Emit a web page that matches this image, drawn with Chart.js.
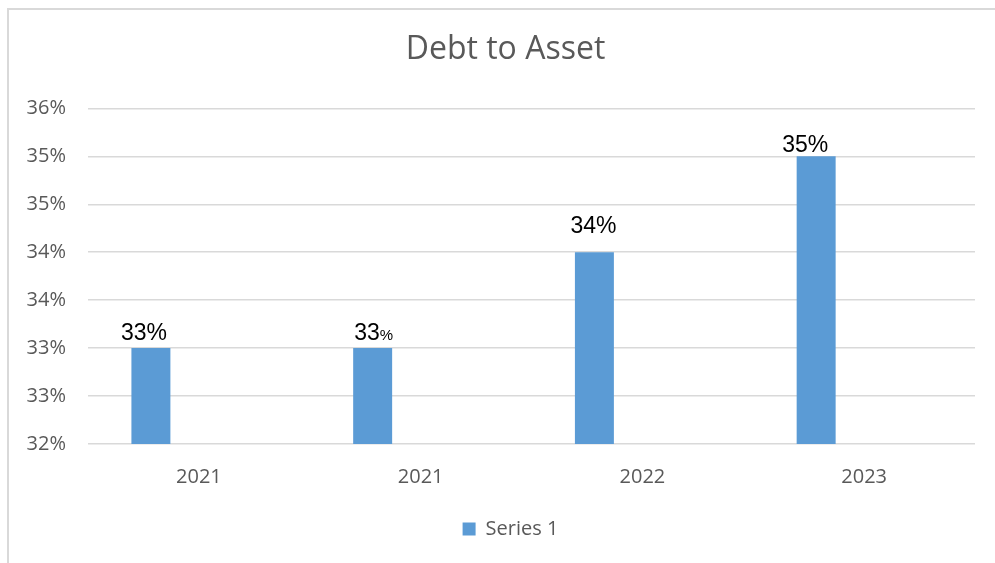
<!DOCTYPE html>
<html>
<head>
<meta charset="utf-8">
<script src="https://cdn.jsdelivr.net/npm/chart.js@4"></script>
<style>
  body { margin: 0; background: #fff; }
  #wrap { position: relative; width: 995px; height: 563px; overflow: hidden; }
  #frame { position: absolute; left: 7px; top: 8px; width: 1000px; height: 600px;
           border-left: 2px solid #d9d9d9; border-top: 2px solid #d9d9d9; }
  canvas { position: absolute; left: 0; top: 0; }
</style>
</head>
<body>
<div id="wrap">
  <div id="frame"></div>
  <canvas id="myBarChart" width="995" height="563"></canvas>
</div>
<script>
// data
const years = ["2021", "2021", "2022", "2023"];
const debtToAsset = [33, 33, 34, 35];
const emptySeries = [null, null, null, null];
const yMin = 32;
const yMax = 35.5;
const yStep = 0.5;

// labels above the bars, hand placed in the original so each gets a nudge
const labelNudge = [
  { dx: -7, dy: -8, pct: 23 },
  { dx: 1, dy: -8, pct: 15 },
  { dx: -1, dy: -19, pct: 23 },
  { dx: -11, dy: -4, pct: 23 },
];
const barLabels = {
  id: "barLabels",
  afterDatasetsDraw(chart) {
    const ctx = chart.ctx;
    const meta = chart.getDatasetMeta(0);
    ctx.save();
    ctx.fillStyle = "#000";
    ctx.textBaseline = "alphabetic";
    ctx.textAlign = "left";
    meta.data.forEach((bar, i) => {
      const n = labelNudge[i];
      const num = String(debtToAsset[i]);
      const big = "23px 'Liberation Sans', Arial, sans-serif";
      const small = n.pct + "px 'Liberation Sans', Arial, sans-serif";
      ctx.font = big;
      const wNum = ctx.measureText(num).width;
      ctx.font = small;
      const wPct = ctx.measureText("%").width;
      const x0 = bar.x + n.dx - (wNum + wPct) / 2;
      const y = bar.y + n.dy;
      ctx.font = big;
      ctx.fillText(num, x0, y);
      ctx.font = small;
      ctx.fillText("%", x0 + wNum, y);
    });
    ctx.restore();
  },
};

// center title and legend over the framed box instead of the whole canvas
const boxShift = {
  id: "boxShift",
  afterLayout(chart) {
    if (chart.titleBlock) chart.titleBlock.left = 36;
    if (chart.legend) chart.legend.left = 46;
  },
};

const barChart = document.getElementById("myBarChart").getContext("2d");
const myBarChart = new Chart(barChart, {
  type: "bar",
  data: {
    labels: years,
    datasets: [
      {
        label: "Series 1",
        data: debtToAsset,
        backgroundColor: "#5b9bd5",
        categoryPercentage: 0.649,
        barPercentage: 0.8125,
      },
      {
        label: "Series 2",
        data: emptySeries,
        backgroundColor: "#ed7d31",
        categoryPercentage: 0.649,
        barPercentage: 0.8125,
      },
      {
        label: "Series 3",
        data: emptySeries,
        backgroundColor: "#a5a5a5",
        categoryPercentage: 0.649,
        barPercentage: 0.8125,
      },
    ],
  },
  options: {
    responsive: false,
    animation: false,
    layout: {
      padding: { top: 0, right: 20, bottom: 14, left: 0 },
    },
    scales: {
      y: {
        min: yMin,
        max: yMax,
        ticks: {
          stepSize: yStep,
          color: "#595959",
          padding: 22,
          font: { family: "'Open Sans'", size: 20 },
          callback: (v) => Math.round(v) + "%",
        },
        grid: {
          color: "#d9d9d9",
          lineWidth: 1.5,
          drawTicks: false,
        },
        border: { display: false },
        afterFit: (scale) => {
          scale.width = 88;
        },
      },
      x: {
        grid: { display: false, drawTicks: false },
        border: { display: false },
        ticks: {
          color: "#595959",
          padding: 21,
          font: { family: "'Open Sans'", size: 20 },
        },
      },
    },
    plugins: {
      title: {
        display: true,
        text: "Debt to Asset",
        color: "#595959",
        font: { family: "'Open Sans'", size: 32, weight: 400 },
        padding: { top: 31, bottom: 39 },
      },
      legend: {
        position: "bottom",
        labels: {
          color: "#595959",
          boxWidth: 13,
          boxHeight: 13,
          padding: 9,
          font: { family: "'Open Sans'", size: 20 },
          filter: (item) => item.datasetIndex === 0,
        },
      },
      tooltip: { enabled: false },
    },
  },
  plugins: [barLabels, boxShift],
});
</script>
</body>
</html>
